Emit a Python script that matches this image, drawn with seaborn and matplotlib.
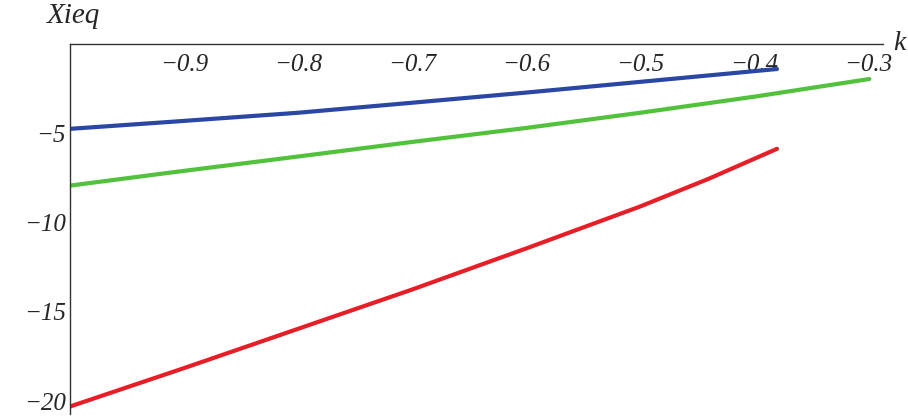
import numpy as np
import pandas as pd
import matplotlib
matplotlib.use("Agg")
import matplotlib.pyplot as plt
import seaborn as sns
from matplotlib.ticker import MultipleLocator

sns.set_style('white')
plt.rcParams['font.family'] = ['Liberation Serif', 'DejaVu Serif']
plt.rcParams['font.serif'] = ['Liberation Serif']

# values
k_blue = [-1.0, -0.912, -0.80, -0.702, -0.60, -0.50, -0.38]
xi_blue = [-4.75, -4.36, -3.85, -3.30, -2.72, -2.12, -1.40]

k_green = [-1.0, -0.912, -0.80, -0.702, -0.60, -0.50, -0.40, -0.299]
xi_green = [-7.93, -7.20, -6.30, -5.50, -4.70, -3.85, -2.95, -1.96]

k_red = [-1.0, -0.90, -0.80, -0.70, -0.60, -0.50, -0.44, -0.38]
xi_red = [-20.3, -18.15, -15.95, -13.75, -11.45, -9.1, -7.55, -5.87]

colors = {'blue': '#2a47a3', 'green': '#52c23c', 'red': '#e61e28'}

df = pd.concat([
    pd.DataFrame({'k': k_blue, 'Xieq': xi_blue, 'curve': 'blue'}),
    pd.DataFrame({'k': k_green, 'Xieq': xi_green, 'curve': 'green'}),
    pd.DataFrame({'k': k_red, 'Xieq': xi_red, 'curve': 'red'}),
])

fig = plt.figure(figsize=(9.08, 4.16), dpi=100)
ax = fig.add_axes([0.0771, 0.0048, 0.8954, 0.8894])

sns.lineplot(data=df, x='k', y='Xieq', hue='curve', palette=colors,
             linewidth=3, legend=False, ax=ax, sort=False)

ax.set_xlim(-1.0, -0.287)
ax.set_ylim(-20.72, 0)

ax.spines['top'].set_visible(False)
ax.spines['right'].set_visible(False)
ax.spines['bottom'].set_position(('data', 0))
ax.spines['left'].set_position(('data', -1.0))
for s in ['bottom', 'left']:
    ax.spines[s].set_color('#333333')
    ax.spines[s].set_linewidth(1.0)

ax.set_xticks([-0.9, -0.8, -0.7, -0.6, -0.5, -0.4, -0.3])
ax.xaxis.set_minor_locator(MultipleLocator(0.02))
ax.set_yticks([-5, -10, -15, -20])
ax.yaxis.set_minor_locator(MultipleLocator(1))

ax.tick_params(axis='x', which='major', direction='in', length=5, width=0.8,
               color='#555555', labelsize=18, pad=7)
ax.tick_params(axis='x', which='minor', direction='in', length=3, width=0.6,
               color='#555555')
ax.tick_params(axis='y', which='major', direction='in', length=5, width=0.8,
               color='#555555', labelsize=18, pad=3)
ax.tick_params(axis='y', which='minor', direction='in', length=0)

for lab in ax.get_xticklabels() + ax.get_yticklabels():
    lab.set_fontstyle('italic')
    lab.set_fontfamily('Liberation Serif')

ax.set_xlabel('')
ax.set_ylabel('')
fig.text(0.081, 0.962, 'Xieq', fontsize=21, fontstyle='italic',
         family='Liberation Serif', ha='center', va='center')
fig.text(0.991, 0.895, 'k', fontsize=20, fontstyle='italic',
         family='Liberation Serif', ha='center', va='center')

fig.savefig('out.png', dpi=100)
